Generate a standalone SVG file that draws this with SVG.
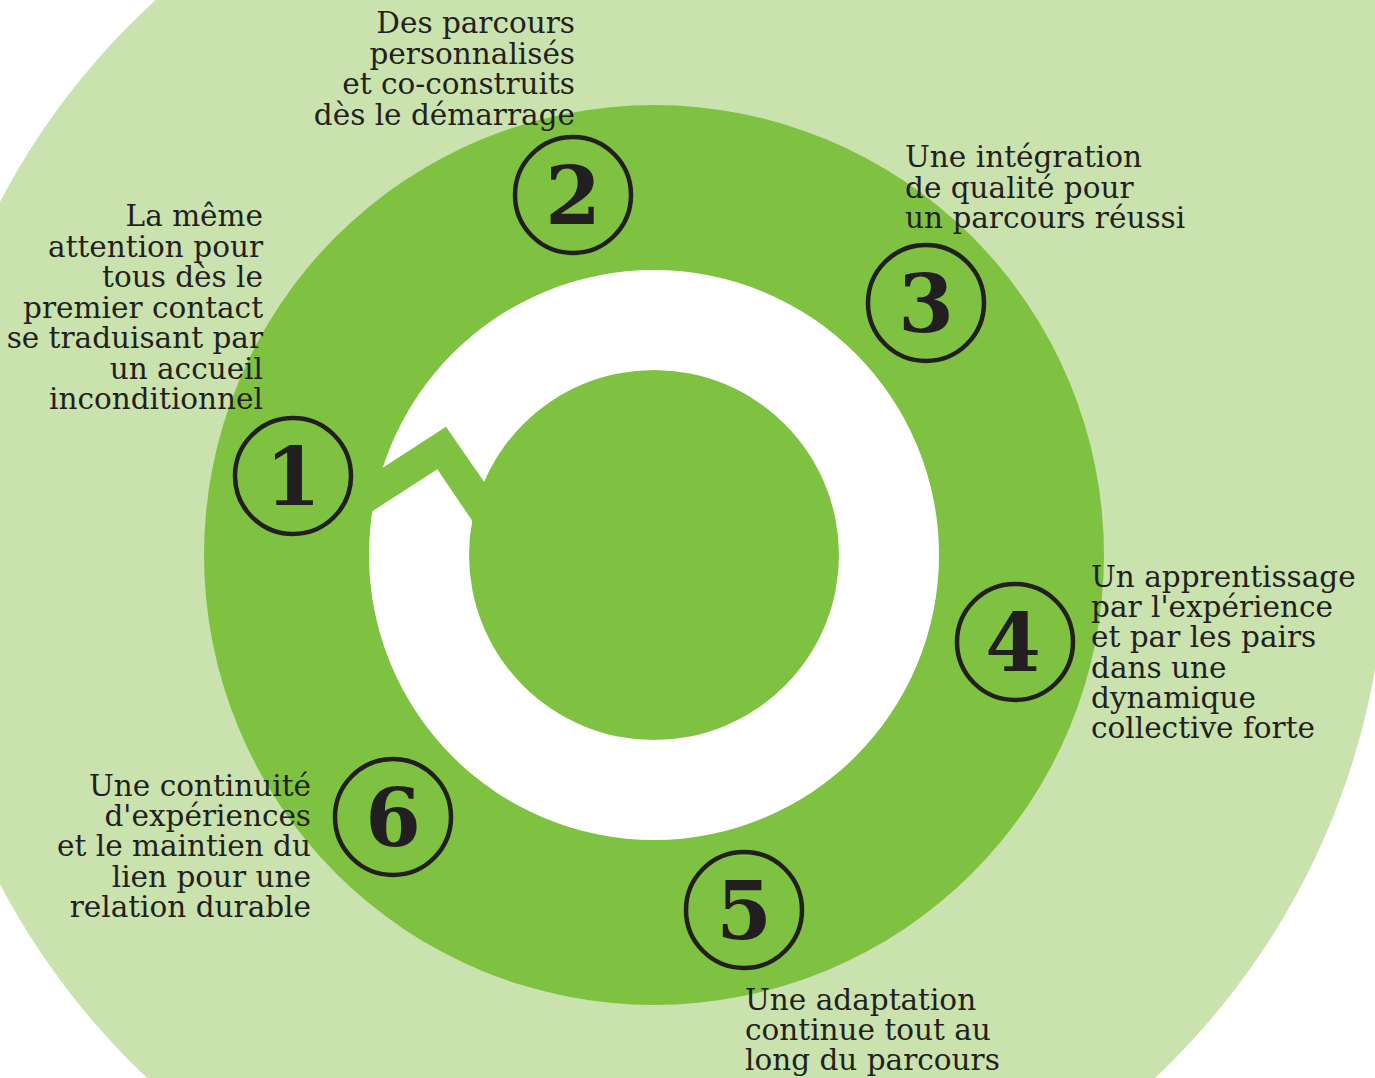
<svg xmlns="http://www.w3.org/2000/svg" width="1375" height="1078" viewBox="0 0 1375 1078">
<style>
.lbl{font-family:"DejaVu Serif","Liberation Serif",serif;font-size:29.5px;fill:#231f20}
.r{text-anchor:end}
.num{font-family:"DejaVu Serif","Liberation Serif",serif;font-weight:bold;font-size:80px;fill:#231f20;text-anchor:middle}
.badge{fill:none;stroke:#231f20;stroke-width:4.5}
</style>
<rect width="1375" height="1078" fill="#ffffff"/>
<g id="background">
<path d="M155.6,0 A735,735 0 1 0 1375,669.7 L1375,0 Z" fill="#cae2ae"/>
<circle cx="654" cy="555" r="450" fill="#7fc241"/>
<circle cx="654" cy="555" r="285" fill="#ffffff"/>
<circle cx="654" cy="555" r="185" fill="#7fc241"/>
</g>
<g id="connectors">
<polygon points="365.6,478.7 446,426.7 495.4,498.2 484.1,538.2 437.3,469.3 355.6,522" fill="#7fc241"/>
</g>
<g id="node1">
<circle class="badge" cx="293" cy="476" r="58"/>
<text class="num" x="293" y="505">1</text>
<text class="lbl r" x="263"><tspan x="263" y="226">La même</tspan><tspan x="263" y="256.5">attention pour</tspan><tspan x="263" y="287">tous dès le</tspan><tspan x="263" y="317.5">premier contact</tspan><tspan x="263" y="348">se traduisant par</tspan><tspan x="263" y="378.5">un accueil</tspan><tspan x="263" y="409">inconditionnel</tspan></text>
</g>
<g id="node2">
<circle class="badge" cx="573" cy="195" r="58"/>
<text class="num" x="573" y="224">2</text>
<text class="lbl r"><tspan x="575" y="33">Des parcours</tspan><tspan x="575" y="63.5">personnalisés</tspan><tspan x="575" y="94">et co-construits</tspan><tspan x="575" y="124.5">dès le démarrage</tspan></text>
</g>
<g id="node3">
<circle class="badge" cx="926" cy="303" r="58"/>
<text class="num" x="926" y="332">3</text>
<text class="lbl"><tspan x="905" y="167">Une intégration</tspan><tspan x="905" y="197.5">de qualité pour</tspan><tspan x="905" y="228">un parcours réussi</tspan></text>
</g>
<g id="node4">
<circle class="badge" cx="1015" cy="642" r="58"/>
<text class="num" x="1013" y="671">4</text>
<text class="lbl"><tspan x="1091" y="587">Un apprentissage</tspan><tspan x="1091" y="617.2">par l'expérience</tspan><tspan x="1091" y="647.4">et par les pairs</tspan><tspan x="1091" y="677.6">dans une</tspan><tspan x="1091" y="707.8">dynamique</tspan><tspan x="1091" y="738">collective forte</tspan></text>
</g>
<g id="node5">
<circle class="badge" cx="744" cy="910" r="58"/>
<text class="num" x="744" y="939">5</text>
<text class="lbl"><tspan x="745" y="1010">Une adaptation</tspan><tspan x="745" y="1040">continue tout au</tspan><tspan x="745" y="1070">long du parcours</tspan></text>
</g>
<g id="node6">
<circle class="badge" cx="393" cy="817" r="58"/>
<text class="num" x="393" y="846">6</text>
<text class="lbl r"><tspan x="311" y="796">Une continuité</tspan><tspan x="311" y="826.2">d'expériences</tspan><tspan x="311" y="856.4">et le maintien du</tspan><tspan x="311" y="886.6">lien pour une</tspan><tspan x="311" y="916.8">relation durable</tspan></text>
</g>
</svg>
